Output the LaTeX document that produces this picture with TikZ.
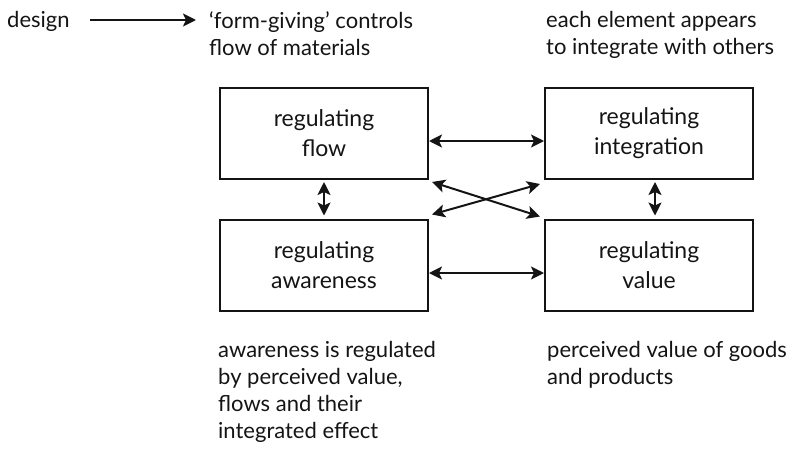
\documentclass[tikz,border=0pt]{standalone}
\usepackage{fontspec}
\setmainfont{Lato}
\usepackage{tikz}
\usetikzlibrary{arrows.meta, calc}
\definecolor{inkgray}{RGB}{20,20,20}

\begin{document}
\begin{tikzpicture}[x=1pt, y=-1pt, >={Stealth[length=13pt, width=13pt, inset=3pt]},
  box/.style={draw=inkgray, line width=2pt, minimum width=208pt, minimum height=91pt,
              align=center, font=\fontsize{23}{30}\selectfont, text=inkgray},
  note/.style={anchor=north west, inner sep=0pt, align=left,
               font=\fontsize{22}{27}\selectfont, text=inkgray},
  link/.style={<->, draw=inkgray, line width=2pt}]

\useasboundingbox (0,0) rectangle (790,453);

% top line
\node[note] (design) at (7,11) {design};
\node[note] (form) at (209,11) {`form-giving' controls\\flow of materials};
\node[note] (each) at (546,11) {each element appears\\to integrate with others};
\coordinate (dstart) at (90,20);
\coordinate (dend) at (196,20);
\draw[->, draw=inkgray, line width=2pt] (dstart) -- (dend);

% the four boxes
\node[box] (flow) at (324,133.5) {regulating\\flow};
\node[box] (integ) at (649,133.5) {regulating\\integration};
\node[box] (aware) at (324,265) {regulating\\awareness};
\node[box] (value) at (649,265) {regulating\\value};

% links between boxes
\draw[link] ([yshift=-7.5pt]flow.east) -- ([yshift=-7.5pt]integ.west);
\draw[link] ([yshift=-8pt]aware.east) -- ([yshift=-8pt]value.west);
\draw[link] ([yshift=-2pt]flow.south) -- ([yshift=3pt]aware.north);
\draw[link] ([xshift=6pt, yshift=-2pt]integ.south) -- ([xshift=6pt, yshift=3pt]value.north);
\draw[link] ($(flow.south east)+(3,2)$) -- ($(value.north west)+(-4,-2)$);
\draw[link] ($(aware.north east)+(3,-4)$) -- ($(integ.south west)+(-4,4)$);

% notes below
\node[note] (awnote) at (218,341) {awareness is regulated\\by perceived value,\\flows and their\\integrated effect};
\node[note] (valnote) at (547,341) {perceived value of goods\\and products};

\end{tikzpicture}
\end{document}
